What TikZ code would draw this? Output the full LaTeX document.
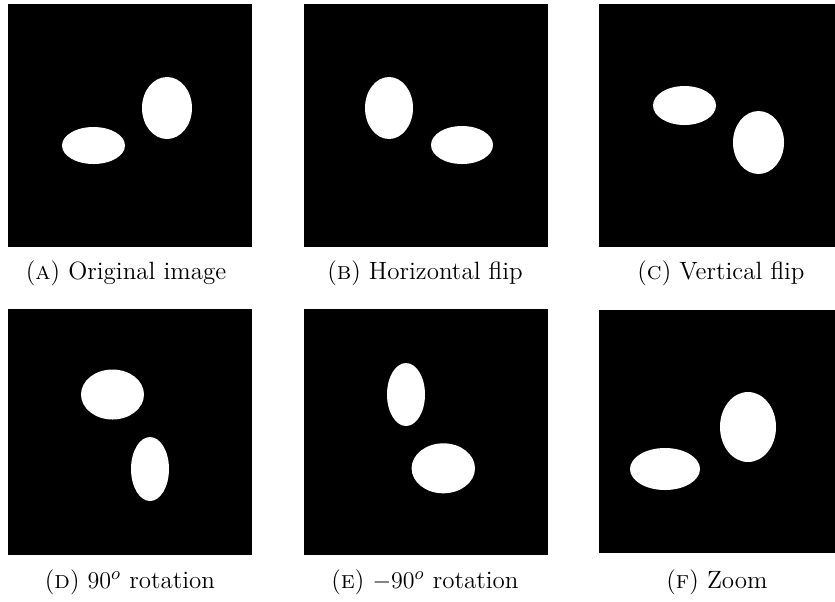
\documentclass[tikz,border=0pt]{standalone}
\usetikzlibrary{positioning}
\begin{document}
\begin{tikzpicture}[x=0.5pt,y=-0.5pt,
  panel/.style={fill=black},
  blob/.style={fill=white},
  captext/.style={font=\fontsize{12.5}{15}\selectfont, inner sep=0pt, anchor=base}]
\useasboundingbox (0,0) rectangle (835,601);
\fill[white] (0,0) rectangle (835,601);
% panels
\fill[panel] (8,4) rectangle (252,247);
\fill[panel] (304,4) rectangle (548,247);
\fill[panel] (599,4) rectangle (835,247);
\fill[panel] (8,309) rectangle (252,555);
\fill[panel] (304,309) rectangle (548,555);
\fill[panel] (599,310) rectangle (835,553);
% (A)
\fill[blob] (93.5,145.5) ellipse [x radius=31.5, y radius=18.5];
\fill[blob] (167,108) ellipse [x radius=25, y radius=31];
% (B)
\fill[blob] (389,108) ellipse [x radius=24, y radius=31];
\fill[blob] (462,145) ellipse [x radius=31, y radius=19];
% (C)
\fill[blob] (684.5,105.5) ellipse [x radius=31.5, y radius=19.5];
\fill[blob] (758.5,142.5) ellipse [x radius=25.5, y radius=31.5];
% (D)
\fill[blob] (112.5,394.5) ellipse [x radius=31.5, y radius=25];
\fill[blob] (150,469) ellipse [x radius=19, y radius=32];
% (E)
\fill[blob] (406,394.5) ellipse [x radius=19, y radius=31.5];
\fill[blob] (443.3,468.3) ellipse [x radius=31.7, y radius=25];
% (F)
\fill[blob] (665,469) ellipse [x radius=35, y radius=21];
\fill[blob] (748,427) ellipse [x radius=28, y radius=35];
% captions
\node[captext] (capA) at (126,279) {(\textsc{a}) Original image};
\node[captext] (capB) at (425,279) {(\textsc{b}) Horizontal flip};
\node[captext] (capC) at (721,279) {(\textsc{c}) Vertical flip};
\node[captext] (capD) at (130,588) {(\textsc{d}) $90^o$ rotation};
\node[captext] (capE) at (425,588) {(\textsc{e}) $-90^o$ rotation};
\node[captext] (capF) at (717,588) {(\textsc{f}) Zoom};
\end{tikzpicture}
\end{document}
